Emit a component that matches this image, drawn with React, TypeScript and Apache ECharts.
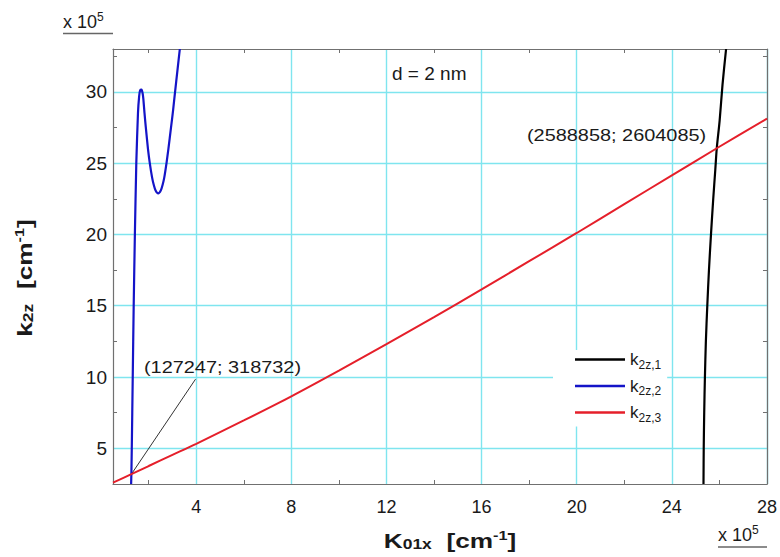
import { useEffect, useRef } from 'react';
import * as echarts from 'echarts';

const FONT = '"Liberation Sans", Arial, Helvetica, sans-serif';
const TEXT = '#1a1a1a';
const GRID = '#7fe5ef';
const FRAME = '#707070';

// Axis ranges, in units of 10^5 cm^-1
const xRange = [0.5, 28];
const yRange = [2.5, 33];
const xMajorTicks = [4, 8, 12, 16, 20, 24, 28];
const xMinorTicks = [2, 6, 10, 14, 18, 22, 26];
const yMajorTicks = [5, 10, 15, 20, 25, 30];
const yMinorTicks = [2.5, 7.5, 12.5, 17.5, 22.5, 27.5, 32.5];

const seriesNames = ['k2z,1', 'k2z,2', 'k2z,3'];
const seriesColors = ['#000000', '#1414c8', '#e51f2a'];

// Crossing points of the branches (x 10^5 cm^-1)
const crossLow = [1.27247, 3.18732];
const crossHigh = [25.88858, 26.04085];
const leaderEnd = [3.97, 9.85];

// k2z,1 branch: [K01x, k2z]
const k2z1 = [
  [25.33, 2.5], [25.34, 5], [25.36, 7.5], [25.39, 10], [25.43, 12.5],
  [25.49, 15], [25.56, 17.5], [25.645, 20], [25.74, 22.5], [25.825, 24.5],
  crossHigh, [26.01, 28], [26.13, 30.5], [26.28, 33],
];

// k2z,2 branch
const k2z2 = [
  [1.262, 2.5], crossLow, [1.29, 5], [1.33, 10], [1.37, 15], [1.42, 20],
  [1.48, 25], [1.55, 28.5], [1.6, 29.7], [1.64, 30.1], [1.7, 30.15],
  [1.745, 29.9], [1.776, 29.5], [1.825, 28.5], [1.88, 27.5], [1.97, 26],
  [2.047, 25], [2.143, 24], [2.21, 23.5], [2.286, 23.1], [2.4, 22.88],
  [2.514, 23.1], [2.59, 23.5], [2.657, 24], [2.75, 25], [2.83, 26],
  [2.94, 27.5], [3.03, 28.75], [3.11, 30], [3.21, 31.5], [3.31, 33],
];

// k2z,3 branch
const k2z3 = [
  [0.5, 2.6], crossLow, [2, 3.76], [3, 4.54], [4, 5.32], [6, 6.96],
  [8, 8.65], [10, 10.45], [12, 12.3], [14, 14.2], [16, 16.15], [18, 18.12],
  [20, 20.1], [22, 22.12], [24, 24.14], crossHigh, [28, 28.12],
];

const fmtPoint = (p: number[]) =>
  `(${Math.round(p[0] * 1e5)}; ${Math.round(p[1] * 1e5)})`;

function minorAxis(pos: string, ticks: number[], range: number[]) {
  return {
    type: 'value',
    position: pos,
    min: range[0],
    max: range[1],
    z: 3,
    axisLine: { show: true, onZero: false, lineStyle: { color: FRAME, width: 1.2 } },
    axisTick: { show: true, inside: true, length: 4, customValues: ticks, lineStyle: { color: FRAME, width: 1 } },
    axisLabel: { show: false },
    splitLine: { show: false },
  };
}

const labelStyle = { fontFamily: FONT, color: TEXT };

const multiplierRich = {
  a: { fontFamily: FONT, fill: TEXT, fontSize: 18, lineHeight: 22 },
  b: { fontFamily: FONT, fill: TEXT, fontSize: 12, lineHeight: 12, verticalAlign: 'top' },
};

const titleRich = {
  m: { fontFamily: FONT, fill: TEXT, fontWeight: 'bold', fontSize: 21, lineHeight: 22 },
  s: { fontFamily: FONT, fill: TEXT, fontWeight: 'bold', fontSize: 14, lineHeight: 14, verticalAlign: 'bottom' },
  p: { fontFamily: FONT, fill: TEXT, fontWeight: 'bold', fontSize: 13, lineHeight: 13, verticalAlign: 'top' },
};

const option: any = {
  animation: false,
  backgroundColor: '#ffffff',
  grid: { left: 113, top: 49, width: 655, height: 435, containLabel: false },
  xAxis: [
    {
      type: 'value',
      position: 'bottom',
      min: xRange[0],
      max: xRange[1],
      minInterval: 4,
      maxInterval: 4,
      z: 1,
      axisLine: { show: false, onZero: false },
      axisTick: { show: false, customValues: xMajorTicks },
      axisLabel: { ...labelStyle, customValues: xMajorTicks, fontSize: 18, margin: 14 },
      splitLine: { show: true, lineStyle: { color: GRID, width: 1.4 } },
    },
    minorAxis('bottom', xMinorTicks, xRange),
    minorAxis('top', xMinorTicks, xRange),
  ],
  yAxis: [
    {
      type: 'value',
      position: 'left',
      min: yRange[0],
      max: yRange[1],
      minInterval: 5,
      maxInterval: 5,
      z: 1,
      axisLine: { show: false, onZero: false },
      axisTick: { show: false, customValues: yMajorTicks },
      axisLabel: { ...labelStyle, customValues: yMajorTicks, fontSize: 19, margin: 6 },
      splitLine: { show: true, lineStyle: { color: GRID, width: 1.4 } },
    },
    minorAxis('left', yMinorTicks, yRange),
    minorAxis('right', yMinorTicks, yRange),
  ],
  legend: {
    orient: 'vertical',
    left: 553,
    top: 350,
    padding: [1, 6, 3, 22],
    backgroundColor: '#ffffff',
    itemWidth: 50,
    itemHeight: 2.5,
    itemGap: 7,
    icon: 'rect',
    selectedMode: false,
    data: seriesNames,
    formatter: (name: string) => `{k|k}{s|${name.slice(1)}}`,
    textStyle: {
      ...labelStyle,
      rich: {
        k: { fontFamily: FONT, color: TEXT, fontSize: 17, lineHeight: 22 },
        s: { fontFamily: FONT, color: TEXT, fontSize: 12, lineHeight: 12, verticalAlign: 'bottom' },
      },
    },
  },
  series: [
    {
      name: seriesNames[0],
      type: 'line',
      data: k2z1,
      symbol: 'none',
      smooth: 0.3,
      z: 5,
      itemStyle: { color: seriesColors[0] },
      lineStyle: { color: seriesColors[0], width: 2.2 },
    },
    {
      name: seriesNames[1],
      type: 'line',
      data: k2z2,
      symbol: 'none',
      smooth: 0.2,
      z: 5,
      itemStyle: { color: seriesColors[1] },
      lineStyle: { color: seriesColors[1], width: 2.2 },
    },
    {
      name: seriesNames[2],
      type: 'line',
      data: k2z3,
      symbol: 'none',
      smooth: 0.3,
      z: 6,
      itemStyle: { color: seriesColors[2] },
      lineStyle: { color: seriesColors[2], width: 2 },
      markLine: {
        silent: true,
        symbol: ['none', 'none'],
        label: { show: false },
        lineStyle: { color: '#333333', width: 1, type: 'solid' },
        data: [[{ coord: crossLow }, { coord: leaderEnd }]],
      },
    },
  ],
  graphic: [
    // axis multipliers
    {
      type: 'text', x: 63, y: 22,
      style: { text: '{a|x 10}{b|5}', align: 'left', verticalAlign: 'middle', rich: multiplierRich },
    },
    { type: 'line', shape: { x1: 63, y1: 33.5, x2: 113, y2: 33.5 }, style: { stroke: '#666', lineWidth: 1.5 } },
    {
      type: 'text', x: 718, y: 535,
      style: { text: '{a|x 10}{b|5}', align: 'left', verticalAlign: 'middle', rich: multiplierRich },
    },
    { type: 'line', shape: { x1: 718, y1: 547, x2: 767, y2: 547 }, style: { stroke: '#666', lineWidth: 1.5 } },
    // parameter note
    {
      type: 'text', x: 392, y: 73, z: 10,
      style: { text: 'd = 2 nm', fontFamily: FONT, fontSize: 19, fill: TEXT, align: 'left', verticalAlign: 'middle' },
    },
    // crossing annotations
    {
      type: 'text', x: 144, y: 367, scaleX: 1.17, z: 10,
      style: { text: fmtPoint(crossLow), fontFamily: FONT, fontSize: 17, fill: TEXT, align: 'left', verticalAlign: 'middle' },
    },
    {
      type: 'text', x: 527, y: 135.5, scaleX: 1.17, z: 10,
      style: { text: fmtPoint(crossHigh), fontFamily: FONT, fontSize: 17, fill: TEXT, align: 'left', verticalAlign: 'middle' },
    },
    // axis titles
    {
      type: 'text', x: 450, y: 540, scaleX: 1.25, z: 10,
      style: { text: '{m|K}{s|01x}{m|  [cm}{p|-1}{m|]}', align: 'center', verticalAlign: 'middle', rich: titleRich },
    },
    {
      type: 'text', x: 24, y: 278, rotation: Math.PI / 2, scaleX: 1.25, z: 10,
      style: { text: '{m|k}{s|2z}{m|  [cm}{p|-1}{m|]}', align: 'center', verticalAlign: 'middle', rich: titleRich },
    },
  ],
};

export default function App() {
  const ref = useRef<HTMLDivElement>(null);
  useEffect(() => {
    document.body.style.margin = '0';
    const chart = echarts.init(ref.current!, null, { renderer: 'svg' });
    chart.setOption(option);
    return () => chart.dispose();
  }, []);
  return <div ref={ref} style={{ width: 780, height: 557 }} />;
}
